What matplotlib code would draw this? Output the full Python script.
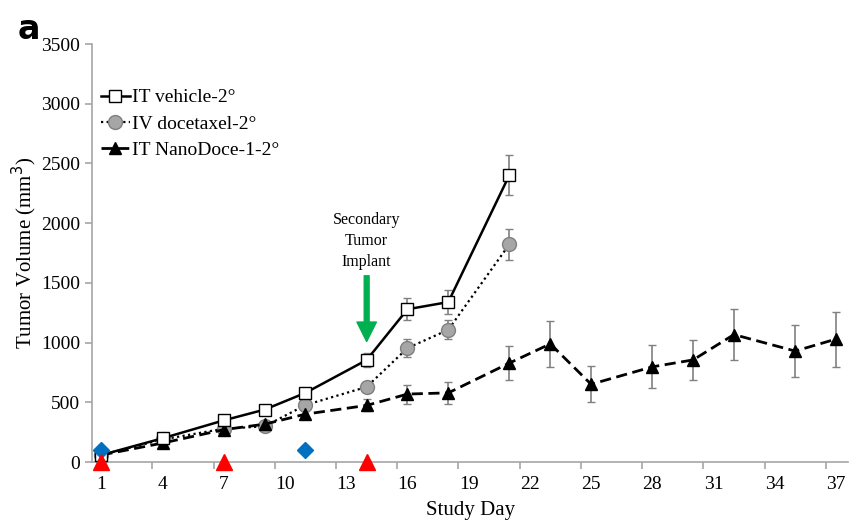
import matplotlib
matplotlib.use("Agg")
import matplotlib.pyplot as plt
from matplotlib.lines import Line2D

plt.rcParams['font.family'] = ['Liberation Serif', 'DejaVu Serif']

# study days and tumor volumes (mm^3)
days_short = [1, 4, 7, 9, 11, 14, 16, 18, 21]
days_long = [1, 4, 7, 9, 11, 14, 16, 18, 21, 23, 25, 28, 30, 32, 35, 37]

vehicle = [60, 200, 350, 440, 580, 855, 1280, 1340, 2405]
vehicle_err = [10, 20, 20, 20, 25, 60, 90, 100, 165]

docetaxel = [60, 190, 280, 300, 478, 630, 955, 1108, 1825]
docetaxel_err = [10, 20, 20, 20, 25, 30, 75, 80, 130]

nanodoce = [60, 160, 272, 318, 402, 475, 570, 580, 830, 990, 652, 798, 856, 1068, 930, 1030]
nanodoce_err = [10, 20, 20, 20, 25, 50, 80, 90, 140, 195, 150, 180, 170, 215, 215, 230]

diamond_days = [1, 11]
diamond_vals = [100, 100]
dose_days = [1, 7, 14]
dose_vals = [0, 0, 0]

tick_days = [1, 4, 7, 10, 13, 16, 19, 22, 25, 28, 31, 34, 37]

fig = plt.figure(figsize=(8.62, 5.24), dpi=100)
ax = fig.add_axes([0.107, 0.118, 0.877, 0.798])

ax.errorbar(days_short, vehicle, yerr=vehicle_err, color='black', lw=1.8, ls='-',
            marker='s', ms=9, mfc='white', mec='black', mew=1.0,
            ecolor='#808080', elinewidth=1.2, capsize=3, zorder=4)
ax.errorbar(days_short, docetaxel, yerr=docetaxel_err, color='black', lw=1.6, ls=(0, (1, 1.5)),
            marker='o', ms=10, mfc='#a6a6a6', mec='#7f7f7f', mew=1.0,
            ecolor='#808080', elinewidth=1.2, capsize=3, zorder=3)
ax.errorbar(days_long, nanodoce, yerr=nanodoce_err, color='black', lw=2.0, ls=(0, (4, 2)),
            marker='^', ms=9, mfc='black', mec='black',
            ecolor='#808080', elinewidth=1.2, capsize=3, zorder=3)

ax.plot(diamond_days, diamond_vals, ls='none', marker='D', ms=8, color='#0070c0', zorder=5)
ax.plot(dose_days, dose_vals, ls='none', marker='^', ms=12, color='#ff0000', zorder=6, clip_on=False)

ax.annotate('', xy=(14, 1010), xytext=(14, 1560),
            arrowprops=dict(color='#00b050', width=3.5, headwidth=14, headlength=14))
ax.text(14, 1610, 'Secondary\nTumor\nImplant', ha='center', va='bottom', fontsize=11.5, linespacing=1.4)

ax.set_xlim(0.55, 37.6)
ax.set_ylim(0, 3500)
ax.set_yticks(range(0, 3501, 500))
ax.set_xticks([d + 2.5 for d in tick_days[:-1]])
ax.set_xticklabels([])
ax.set_xticks(tick_days, minor=True)
ax.set_xticklabels([str(d) for d in tick_days], minor=True)
ax.tick_params(axis='x', which='minor', length=0, pad=10, labelsize=14)
ax.tick_params(axis='x', which='major', length=5, color='#a6a6a6', width=1.2)
ax.tick_params(axis='y', length=5, color='#a6a6a6', width=1.2, labelsize=14)

for side in ['top', 'right']:
    ax.spines[side].set_visible(False)
for side in ['left', 'bottom']:
    ax.spines[side].set_color('#a6a6a6')
    ax.spines[side].set_linewidth(1.2)

ax.set_xlabel('Study Day', fontsize=15, labelpad=6)
ax.set_ylabel('Tumor Volume (mm$^3$)', fontsize=15, labelpad=2)

handles = [
    Line2D([], [], color='black', lw=1.8, marker='s', ms=9, mfc='white', mec='black'),
    Line2D([], [], color='black', lw=1.6, ls=(0, (1, 1.5)), marker='o', ms=10, mfc='#a6a6a6', mec='#7f7f7f'),
    Line2D([], [], color='black', lw=2.0, ls=(0, (4, 2)), marker='^', ms=9, mfc='black', mec='black'),
]
ax.legend(handles, ['IT vehicle-2°', 'IV docetaxel-2°', 'IT NanoDoce-1-2°'],
          loc='upper left', bbox_to_anchor=(-0.012, 0.935), frameon=False, fontsize=14,
          handlelength=1.5, handletextpad=0.1, labelspacing=0.45)

fig.text(0.02, 0.975, 'a', fontsize=24, fontweight='bold', family='DejaVu Sans', va='top')

fig.savefig('out.png', dpi=100)
